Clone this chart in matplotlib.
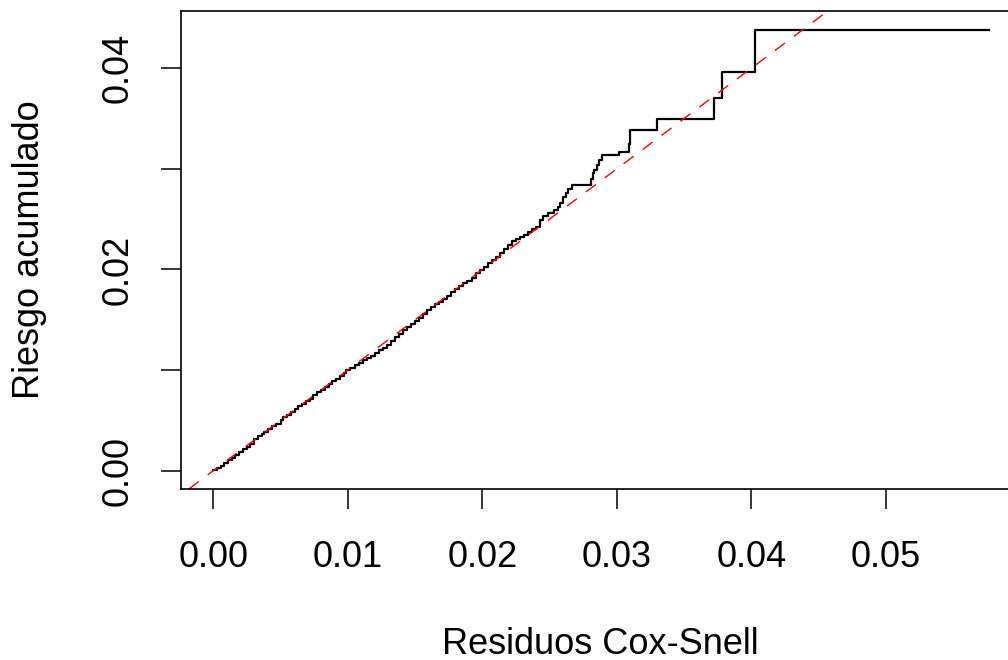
import matplotlib
matplotlib.use("Agg")
import matplotlib.pyplot as plt

# Cox-Snell residual event times and Nelson-Aalen cumulative hazard
resid_times = [
    0.0000, 0.0003, 0.0006, 0.0008, 0.0011, 0.0014, 0.0016, 0.0019, 0.0022, 0.0025,
    0.0027, 0.0030, 0.0033, 0.0036, 0.0038, 0.0041, 0.0044, 0.0047, 0.0050, 0.0052,
    0.0055, 0.0058, 0.0061, 0.0063, 0.0066, 0.0069, 0.0072, 0.0074, 0.0077, 0.0080,
    0.0083, 0.0086, 0.0088, 0.0091, 0.0094, 0.0097, 0.0099, 0.0102, 0.0105, 0.0108,
    0.0111, 0.0114, 0.0117, 0.0120, 0.0123, 0.0126, 0.0129, 0.0132, 0.0135, 0.0138,
    0.0141, 0.0144, 0.0147, 0.0150, 0.0153, 0.0156, 0.0159, 0.0162, 0.0165, 0.0168,
    0.0171, 0.0174, 0.0177, 0.0180, 0.0183, 0.0186, 0.0189, 0.0192, 0.0195, 0.0198,
    0.0201, 0.0204, 0.0207, 0.0210, 0.0213, 0.0216, 0.0219, 0.0222, 0.0225, 0.0228,
    0.0231, 0.0234, 0.0237, 0.0240, 0.0243, 0.0245, 0.0249, 0.0253, 0.0256, 0.0258,
    0.0260, 0.0262, 0.0264, 0.0267, 0.0281, 0.0282, 0.0283, 0.0285, 0.0287, 0.0289,
    0.0302, 0.0309, 0.0310, 0.0330, 0.0372, 0.0378, 0.0403, 0.0577,
]
cum_hazard = [
    0.0001, 0.0003, 0.0005, 0.0008, 0.0011, 0.0013, 0.0016, 0.0019, 0.0022, 0.0024,
    0.0027, 0.0031, 0.0034, 0.0036, 0.0038, 0.0041, 0.0044, 0.0046, 0.0050, 0.0053,
    0.0055, 0.0058, 0.0061, 0.0064, 0.0066, 0.0069, 0.0071, 0.0075, 0.0078, 0.0080,
    0.0083, 0.0086, 0.0089, 0.0091, 0.0094, 0.0097, 0.0100, 0.0102, 0.0105, 0.0107,
    0.0110, 0.0112, 0.0114, 0.0117, 0.0120, 0.0122, 0.0125, 0.0129, 0.0133, 0.0136,
    0.0140, 0.0143, 0.0146, 0.0149, 0.0152, 0.0156, 0.0160, 0.0163, 0.0166, 0.0168,
    0.0171, 0.0174, 0.0178, 0.0181, 0.0184, 0.0187, 0.0189, 0.0192, 0.0196, 0.0199,
    0.0202, 0.0206, 0.0209, 0.0212, 0.0216, 0.0220, 0.0224, 0.0228, 0.0230, 0.0232,
    0.0234, 0.0237, 0.0240, 0.0242, 0.0249, 0.0253, 0.0256, 0.0259, 0.0262, 0.0266,
    0.0272, 0.0276, 0.0280, 0.0284, 0.0290, 0.0296, 0.0299, 0.0304, 0.0309, 0.0314,
    0.0317, 0.0325, 0.0339, 0.0350, 0.0370, 0.0396, 0.0438, 0.0438,
]

x_ticks = [0.00, 0.01, 0.02, 0.03, 0.04, 0.05]
x_tick_labels = ["0.00", "0.01", "0.02", "0.03", "0.04", "0.05"]
y_ticks = [0.00, 0.01, 0.02, 0.03, 0.04]
y_tick_labels = ["0.00", "", "0.02", "", "0.04"]

xlabel = "Residuos Cox-Snell"
ylabel = "Riesgo acumulado"

plt.rcParams["font.family"] = ["Liberation Sans", "DejaVu Sans"]
plt.rcParams["lines.scale_dashes"] = False

W, H = 1008, 660
fig = plt.figure(figsize=(W / 100, H / 100), dpi=100)
# axes box in pixels: left 181, right 1020 (beyond image edge), top 11, bottom 489
L, R, T, B = 181, 1020, 11, 489
ax = fig.add_axes([L / W, 1 - B / H, (R - L) / W, (B - T) / H])

ax.step(resid_times, cum_hazard, where="post", color="black", lw=1.6)
ax.axline((0, 0), slope=1, color="red", lw=1.0, dashes=(9, 8))

ax.set_xlim(-0.0024, 0.05998)
ax.set_ylim(-0.00182, 0.04569)

ax.set_xticks(x_ticks)
ax.set_xticklabels(x_tick_labels)
ax.set_yticks(y_ticks)
ax.set_yticklabels(y_tick_labels, rotation=90, va="center")

ax.tick_params(axis="both", direction="out", length=14.5, width=1.1,
               labelsize=26, color="black")
ax.tick_params(axis="x", pad=22)
ax.tick_params(axis="y", pad=18)

for s in ax.spines.values():
    s.set_linewidth(1.2)

fig.text(600 / W, 1 - 654 / H, xlabel, ha="center", va="baseline", fontsize=26)
fig.text(30 / W, 1 - 250 / H, ylabel, ha="center", va="center", rotation=90, fontsize=26)

fig.savefig("out.png", dpi=100)
